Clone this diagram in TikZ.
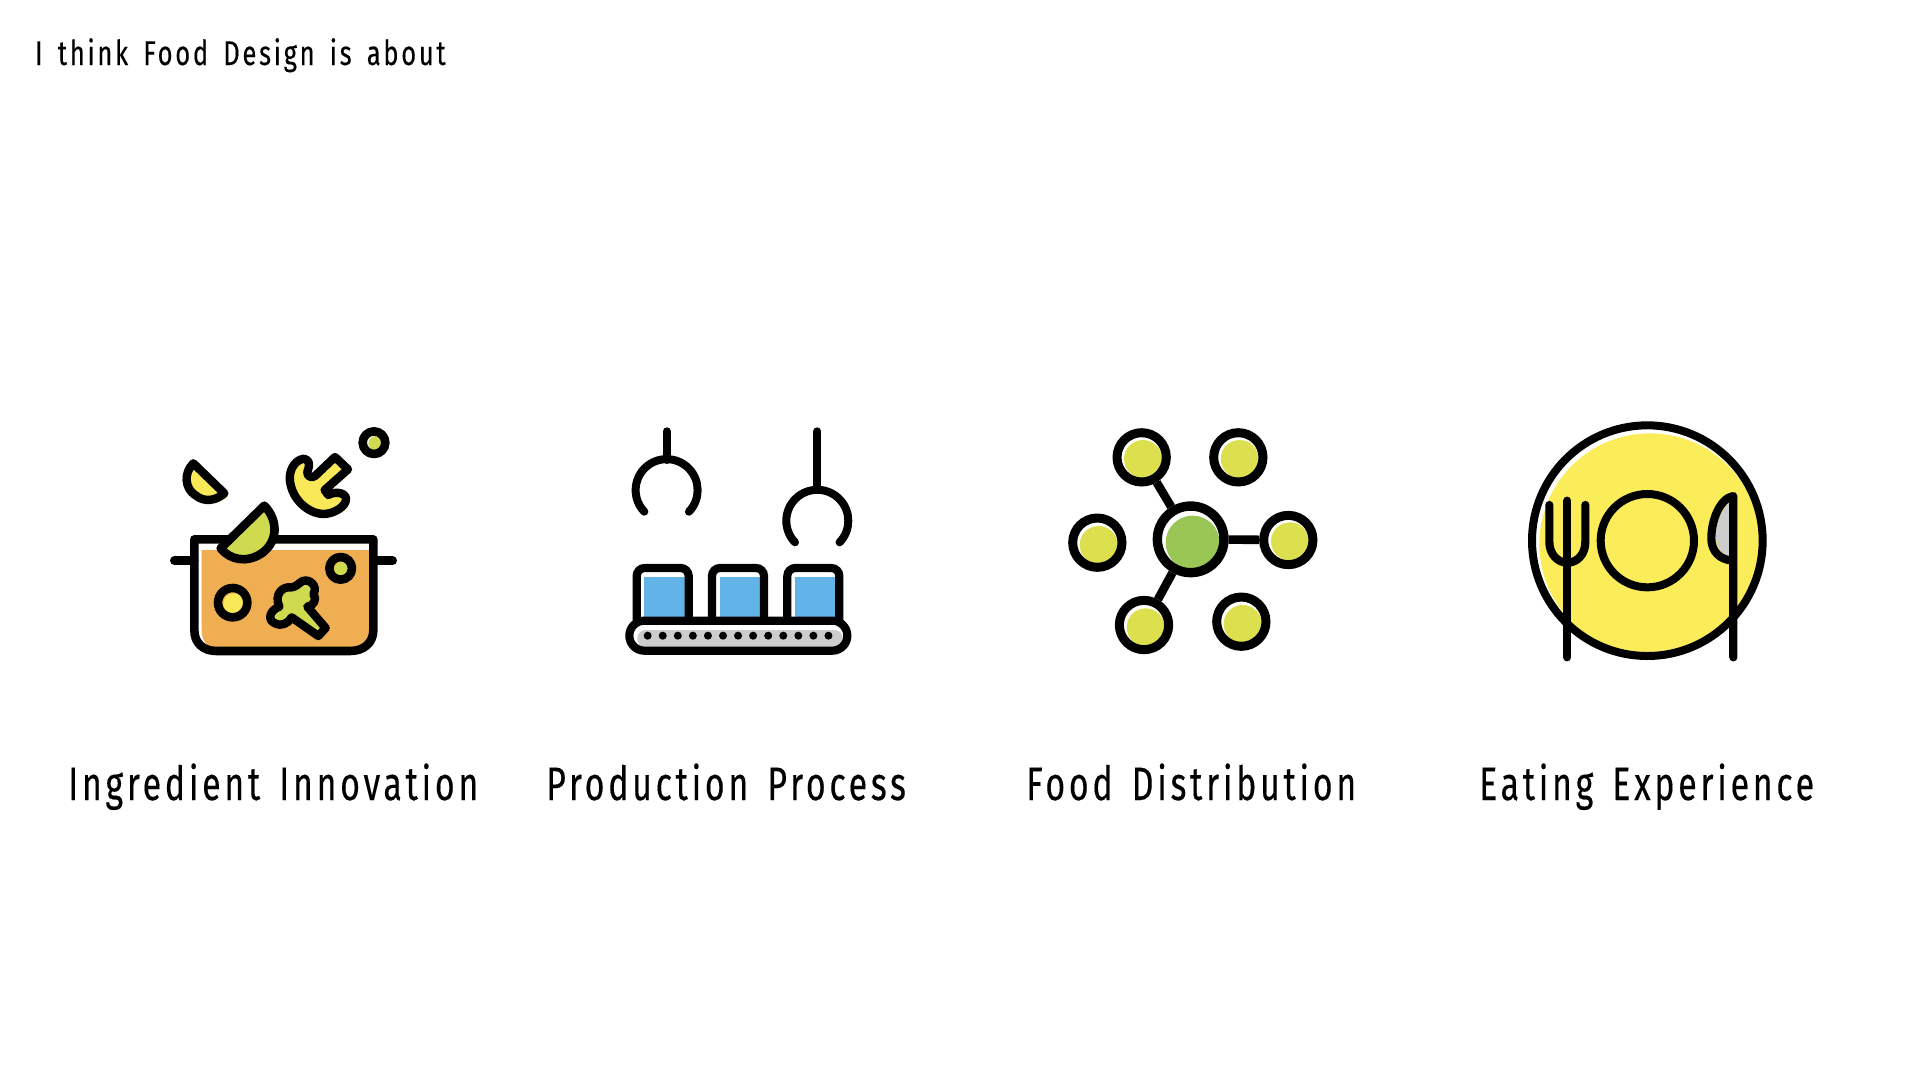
\documentclass[tikz,border=0pt]{standalone}
\usepackage{fontspec}
\newfontfamily\din[FakeStretch=0.72,LetterSpace=8,WordSpace=1.5,FakeBold=0.25]{Fira Sans}
\newfontfamily\dinh[FakeStretch=0.74,LetterSpace=8,WordSpace=1.6,FakeBold=0.25]{Fira Sans}
\definecolor{orangec}{HTML}{EFAE52}
\definecolor{limec}{HTML}{CFDA4E}
\definecolor{yelc}{HTML}{F9E857}
\definecolor{bluec}{HTML}{62B4E8}
\definecolor{greyc}{HTML}{CDCDCD}
\definecolor{greenc}{HTML}{9AC655}
\definecolor{satc}{HTML}{DDE04E}
\definecolor{platec}{HTML}{FBEC5A}
\tikzset{
 ink/.style={draw=black,line width=#1,line cap=round,line join=round},
 ink/.default=8.4pt,
 zoomA/.style={x=0.33333pt,y=0.33333pt},
 sat/.style={circle,draw=black,line width=9pt,minimum size=49.3pt,inner sep=0pt},
 hub/.style={circle,draw=black,line width=9.4pt,minimum size=66.6pt,inner sep=0pt},
 link/.style={draw=black,line width=8.6pt},
 label/.style={anchor=base west,inner sep=0pt,font=\din\fontsize{47}{50}\selectfont},
 header/.style={anchor=base west,inner sep=0pt,font=\dinh\fontsize{34.4}{36}\selectfont},
}
\begin{document}
\begin{tikzpicture}[x=1pt,y=1pt,yscale=-1]
\useasboundingbox (0,0) rectangle (1920,1080);
\fill[white] (0,0) rectangle (1920,1080);

\node[header] (head) at (35,65) {I think Food Design is about};
\node[label] (l1) at (68,800) {Ingredient Innovation};
\node[label] (l2) at (546,800) {Production Process};
\node[label] (l3) at (1026,800) {Food Distribution};
\node[label] (l4) at (1479,800) {Eating Experience};

% ---------- pot
\begin{scope}[shift={(150,410)},zoomA]
 \def\potbody{(133,388) -- (133,660) .. controls (133,700) and (160,723) .. (200,723) -- (600,723) .. controls (640,723) and (670,700) .. (670,660) -- (670,388) -- cycle}
 \fill[orangec] (155,420) -- (155,660) .. controls (155,690) and (170,715) .. (200,715) -- (600,715) .. controls (640,715) and (660,690) .. (660,660) -- (660,420) -- cycle;
 \draw[ink=8.6pt] \potbody;
 \draw[ink=8.6pt] (73,452) -- (133,452);
 \draw[ink=8.6pt] (670,452) -- (728,452);
 % big wedge
 \def\wedgeA{(343,287) .. controls (385,330) and (385,395) .. (335,430) .. controls (290,460) and (240,450) .. (212,415) -- cycle}
 \fill[white] \wedgeA;
 \fill[limec,shift={(3,3)}] \wedgeA;
 \draw[ink=8.6pt] \wedgeA;
 % small wedge
 \def\wedgeB{(130,160) .. controls (100,190) and (105,235) .. (135,255) .. controls (165,280) and (200,270) .. (223,250) -- cycle}
 \fill[yelc,shift={(10,10)}] \wedgeB;
 \draw[ink=8.4pt] \wedgeB;
 % mushroom
 \def\mush{(462,146) .. controls (430,150) and (412,190) .. (422,225) .. controls (430,265) and (470,310) .. (520,312) .. controls (550,312) and (590,290) .. (588,265) .. controls (585,245) and (550,245) .. (535,255) -- (524,240) -- (594,178) -- (555,141) -- (495,198) .. controls (485,205) and (470,200) .. (472,185) .. controls (480,165) and (480,150) .. (462,146) -- cycle}
 \fill[yelc,shift={(8,9)}] \mush;
 \draw[ink=8.4pt] \mush;
 % top right pea
 \fill[limec] (677,100) circle (22);
 \draw[ink=8.6pt] (672,98) circle (34);
 % pot circles
 \fill[yelc] (251,581) circle (31);
 \draw[ink=8.6pt] (248,578) circle (44);
 \fill[limec] (574,478) circle (22);
 \draw[ink=8.6pt] (572,475) circle (34);
 % broccoli
 \def\broc{(505,678) -- (527,654) -- (472,590) .. controls (490,590) and (503,565) .. (490,552) .. controls (505,530) and (480,505) .. (458,513) .. controls (445,520) and (440,530) .. (425,532) .. controls (395,528) and (372,555) .. (388,590) .. controls (360,600) and (350,630) .. (375,640) .. controls (395,650) and (415,640) .. (425,622) -- cycle}
 \fill[limec,shift={(8,8)}] \broc;
 \draw[ink=8.4pt] \broc;
\end{scope}

% ---------- production line
\begin{scope}[shift={(610,410)},zoomA]
 \draw[ink=8pt] (170,64) -- (170,150);
 \draw[ink=8pt] (103,305) arc[start angle=136,end angle=404,radius=93];
 \draw[ink=8pt] (622,64) -- (622,240);
 \draw[ink=8pt] (555,397) arc[start angle=136,end angle=404,radius=93];
 \foreach \bx in {0,226,452}{
  \fill[bluec] (103+\bx,502) rectangle (228+\bx,622);
  \draw[ink=8.2pt,line join=miter,line cap=butt,rounded corners=8pt] (80+\bx,632) -- (80+\bx,474) -- (236+\bx,474) -- (236+\bx,632);
 }
 \fill[greyc,rounded corners=8pt] (82,660) -- (698,660) -- (698,712) -- (82,712) -- cycle;
 \draw[ink=8.2pt,rounded corners=15pt] (58,632) rectangle (712,722);
 \foreach \i in {0,...,12}{ \fill[black] (113+45.2*\i,677) circle (12); }
\end{scope}

% ---------- network
\begin{scope}[shift={(1060,410)},zoomA]
 \fill[greenc] (398,398) circle (81);
 \fill[satc] (249,147) circle (57);
 \fill[satc] (539,147) circle (57);
 \fill[satc] (116,405) circle (57);
 \fill[satc] (690,394) circle (57);
 \fill[satc] (257,652) circle (57);
 \fill[satc] (548,642) circle (57);
 \node[hub] (hubn) at (392,388) {};
 \node[sat] (s1) at (245,142) {};
 \node[sat] (s2) at (535,142) {};
 \node[sat] (s3) at (112,398) {};
 \node[sat] (s4) at (685,390) {};
 \node[sat] (s5) at (252,645) {};
 \node[sat] (s6) at (544,635) {};
 \draw[link] (hubn) -- (s1);
 \draw[link] (hubn) -- (s4);
 \draw[link] (hubn) -- (s5);
\end{scope}

% ---------- plate
\begin{scope}[shift={(1520,410)},zoomA]
 \fill[platec] (390,402) circle (332);
 \draw[ink=8pt] (382,392) circle (346);
 \draw[ink=8pt] (382,392) circle (140);
 % fork
 \draw[ink=8.2pt] (142,742) -- (142,272);
 \draw[ink=8.2pt] (88,285) -- (88,395) .. controls (88,435) and (115,458) .. (142,458) .. controls (170,458) and (196,435) .. (196,395) -- (196,285);
 % knife
 \fill[greyc] (628,278) .. controls (600,300) and (585,350) .. (588,385) .. controls (590,415) and (610,435) .. (628,442) -- cycle;
 \draw[ink=8.2pt] (640,742) -- (640,258) .. controls (600,265) and (574,330) .. (574,385) .. controls (574,425) and (600,450) .. (640,452);
\end{scope}
\end{tikzpicture}
\end{document}
